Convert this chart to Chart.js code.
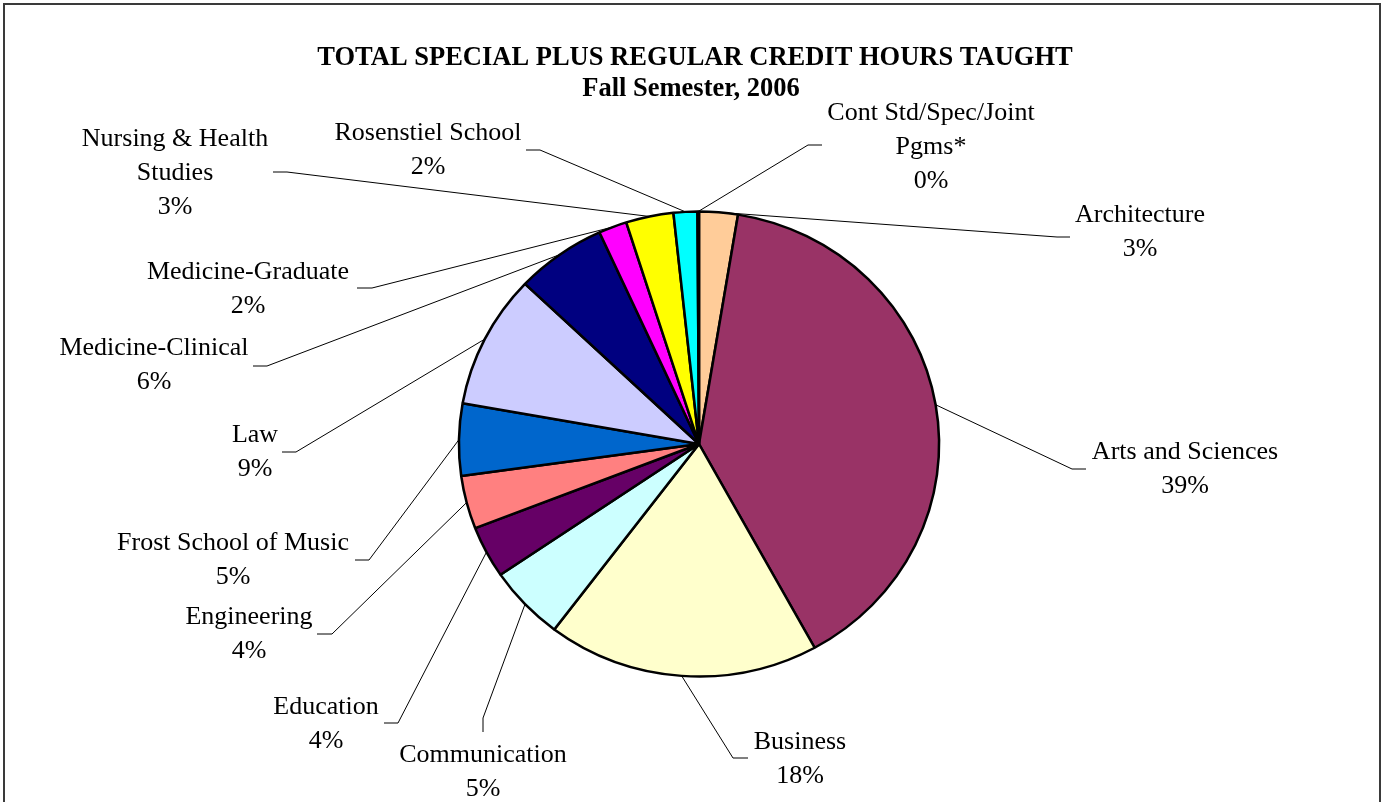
<!DOCTYPE html>
<html lang="en">
<head>
    <meta charset="UTF-8">
    <title>Total Special Plus Regular Credit Hours Taught</title>
    <script src="https://cdn.jsdelivr.net/npm/chart.js@4/dist/chart.umd.min.js"></script>
    <style>
        body { margin: 0; background: #fff; }
        #wrap { width: 1385px; height: 802px; }
    </style>
</head>
<body>
<div id="wrap"><canvas id="pie" width="1385" height="802"></canvas></div>

<script>
    // data, clockwise from 12 o'clock (share of credit hours, %)
    const schools = ['Architecture', 'Arts and Sciences', 'Business', 'Communication', 'Education',
        'Engineering', 'Frost School of Music', 'Law', 'Medicine-Clinical', 'Medicine-Graduate',
        'Nursing & Health Studies', 'Rosenstiel School', 'Cont Std/Spec/Joint Pgms*'];
    const shares = [2.6, 39.4, 18.3, 5.2, 3.6, 3.7, 5.0, 9.3, 6.1, 1.9, 3.2, 1.6, 0.1];
    const labelLines = [
        ['Architecture'], ['Arts and Sciences'], ['Business'], ['Communication'], ['Education'],
        ['Engineering'], ['Frost School of Music'], ['Law'], ['Medicine-Clinical'], ['Medicine-Graduate'],
        ['Nursing & Health', 'Studies'], ['Rosenstiel School'], ['Cont Std/Spec/Joint', 'Pgms*']
    ];
    const titleLines = ['TOTAL SPECIAL PLUS REGULAR CREDIT HOURS TAUGHT', 'Fall Semester, 2006'];

    const colors = ['#FFCC99', '#993366', '#FFFFCC', '#CCFFFF', '#660066', '#FF8080', '#0066CC',
        '#CCCCFF', '#000080', '#FF00FF', '#FFFF00', '#00FFFF', '#800080'];

    // label layout: text centre of first line, and the short elbow segment (text end -> bend)
    const labelAt = [
        [1140, 215], [1185, 452], [800, 742], [483, 755], [326, 707], [249, 617], [233, 543],
        [255, 435], [154, 348], [248, 272], [175, 139], [428, 133], [931, 113]
    ];
    const elbows = [
        [1070, 237, 1057, 237], [1086, 469, 1072, 469], [748, 758, 733, 758], [483, 732, 483, 718],
        [384, 723, 398, 723], [317, 634, 332, 634], [355, 560, 369, 560], [282, 452, 296, 452],
        [253, 366, 267, 366], [357, 288, 372, 288], [273, 172, 287, 172], [526, 150, 540, 150],
        [822, 145, 808, 145]
    ];

    // the original pie is a touch wider than tall
    const squashX = 1.013, squashY = 0.981;

    const pct = v => Math.round(v / shares.reduce((a, b) => a + b, 0) * 100) + '%';

    const decor = {
        id: 'decor',
        beforeDatasetsDraw(chart) {
            const a = chart.getDatasetMeta(0).data[0];
            const ctx = chart.ctx;
            ctx.save();
            ctx.translate(a.x, a.y);
            ctx.scale(squashX, squashY);
            ctx.translate(-a.x, -a.y);
        },
        afterDatasetsDraw(chart) {
            chart.ctx.restore();
        },
        afterDraw(chart) {
            const ctx = chart.ctx;
            const arcs = chart.getDatasetMeta(0).data;
            ctx.save();

            // frame
            ctx.strokeStyle = '#3a3a3a';
            ctx.lineWidth = 2;
            ctx.strokeRect(4, 4, 1376, 850);

            // title
            ctx.fillStyle = '#000';
            ctx.textAlign = 'center';
            ctx.textBaseline = 'middle';
            ctx.font = 'bold 26.5px "Liberation Serif", "Times New Roman", serif';
            ctx.fillText(titleLines[0], 695, 58);
            ctx.fillText(titleLines[1], 691, 89);

            // leader lines
            ctx.strokeStyle = '#000';
            ctx.lineWidth = 1;
            arcs.forEach((arc, i) => {
                const p = arc.getProps(['x', 'y', 'startAngle', 'endAngle', 'outerRadius'], true);
                const mid = (p.startAngle + p.endAngle) / 2;
                const ex = p.x + Math.cos(mid) * p.outerRadius * squashX;
                const ey = p.y + Math.sin(mid) * p.outerRadius * squashY;
                const e = elbows[i];
                ctx.beginPath();
                ctx.moveTo(e[0], e[1]);
                ctx.lineTo(e[2], e[3]);
                ctx.lineTo(ex, ey);
                ctx.stroke();
            });

            // labels
            ctx.font = '26px "Liberation Serif", "Times New Roman", serif';
            labelLines.forEach((lines, i) => {
                const [cx, cy] = labelAt[i];
                lines.concat([pct(shares[i])]).forEach((t, k) => ctx.fillText(t, cx, cy + k * 34));
            });
            ctx.restore();
        }
    };

    new Chart(document.getElementById('pie'), {
        type: 'pie',
        data: {
            labels: schools,
            datasets: [{
                data: shares,
                backgroundColor: colors,
                borderColor: '#000',
                borderWidth: 2.5,
                radius: 237
            }]
        },
        options: {
            responsive: false,
            animation: false,
            layout: { padding: { left: 399, right: 386, top: 144, bottom: 58 } },
            plugins: { legend: { display: false }, tooltip: { enabled: false } }
        },
        plugins: [decor]
    });
</script>
</body>
</html>
